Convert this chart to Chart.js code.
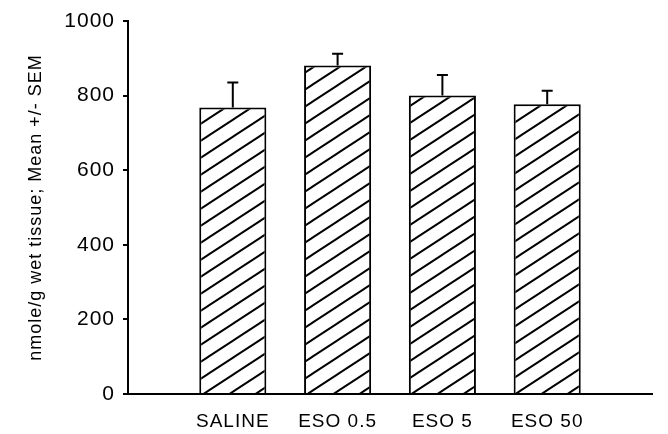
<!DOCTYPE html>
<html>
<head>
<meta charset="utf-8">
<script src="https://cdn.jsdelivr.net/npm/chart.js@4.4.1/dist/chart.umd.min.js"></script>
<style>
  html, body { margin: 0; padding: 0; background: #fff; }
  #wrap { width: 668px; height: 434px; }
</style>
</head>
<body>
<div id="wrap"><canvas id="c" width="668" height="434"></canvas></div>
<script>
const categories = ['SALINE', 'ESO 0.5', 'ESO 5', 'ESO 50'];
const means = [768, 881, 800, 777];
const sem = [67, 31, 55, 36];
const yTicks = [0, 200, 400, 600, 800, 1000];
const yTitle = 'nmole/g wet tissue; Mean +/- SEM';

// padded category list: empty slot before and after the groups
const labels = [''].concat(categories, ['']);
const barData = [null].concat(means, [null]);
const errData = [null].concat(sem, [null]);

function makeHatch() {
  const w = 26, h = 17;
  const c = document.createElement('canvas');
  c.width = w; c.height = h;
  const g = c.getContext('2d');
  g.fillStyle = '#fff';
  g.fillRect(0, 0, w, h);
  g.strokeStyle = '#000';
  g.lineWidth = 2;
  for (let k = -1; k <= 1; k++) {
    g.beginPath();
    g.moveTo(-w, 2 * h + k * h);
    g.lineTo(2 * w, -h + k * h);
    g.stroke();
  }
  return g.createPattern(c, 'repeat');
}

const spacing = {
  id: 'spacing',
  beforeUpdate(chart) { chart.ctx.letterSpacing = '1px'; },
  beforeDraw(chart) { chart.ctx.letterSpacing = '1px'; }
};

const errorBars = {
  id: 'errorBars',
  afterDatasetsDraw(chart) {
    const ctx = chart.ctx;
    const meta = chart.getDatasetMeta(0);
    const ys = chart.scales.y;
    ctx.save();
    ctx.strokeStyle = '#000';
    ctx.lineWidth = 2;
    meta.data.forEach((bar, i) => {
      const v = barData[i], e = errData[i];
      if (v == null || e == null) return;
      const x = bar.x;
      const yTop = ys.getPixelForValue(v);
      const yErr = ys.getPixelForValue(v + e);
      ctx.beginPath();
      ctx.moveTo(x, yTop);
      ctx.lineTo(x, yErr);
      ctx.moveTo(x - 5.5, yErr);
      ctx.lineTo(x + 5.5, yErr);
      ctx.stroke();
    });
    ctx.restore();
  }
};

new Chart(document.getElementById('c'), {
  type: 'bar',
  data: {
    labels: labels,
    datasets: [{
      data: barData,
      backgroundColor: makeHatch(),
      borderColor: '#000',
      borderWidth: 2,
      borderSkipped: 'bottom',
      barPercentage: 0.64,
      categoryPercentage: 1
    }]
  },
  options: {
    responsive: false,
    animation: false,
    devicePixelRatio: 1,
    layout: { padding: { top: 21, right: 7, bottom: 0, left: 0 } },
    plugins: { legend: { display: false }, tooltip: { enabled: false } },
    scales: {
      x: {
        type: 'category',
        offset: false,
        grid: { display: true, drawOnChartArea: false, drawTicks: false, color: 'rgba(0,0,0,0)' },
        border: { display: true, color: '#000', width: 2 },
        ticks: {
          color: '#000',
          padding: 16,
          maxRotation: 0,
          autoSkip: false,
          font: { family: '"Liberation Sans", Arial, sans-serif', size: 19 }
        },
        afterFit(scale) { scale.height = 40; }
      },
      y: {
        min: 0,
        max: 1000,
        afterBuildTicks(scale) { scale.ticks = yTicks.map(v => ({ value: v })); },
        grid: { display: true, drawOnChartArea: false, drawTicks: true, tickLength: 5, color: '#000', lineWidth: 2 },
        border: { display: true, color: '#000', width: 2 },
        ticks: {
          color: '#000',
          padding: 8,
          callback: (v) => String(v),
          font: { family: '"Liberation Sans", Arial, sans-serif', size: 21 }
        },
        title: {
          display: true,
          text: yTitle,
          color: '#000',
          padding: { top: 25, bottom: 0 },
          font: { family: '"Liberation Sans", Arial, sans-serif', size: 18 }
        },
        afterFit(scale) { scale.width = 128; }
      }
    }
  },
  plugins: [spacing, errorBars]
});
</script>
</body>
</html>
